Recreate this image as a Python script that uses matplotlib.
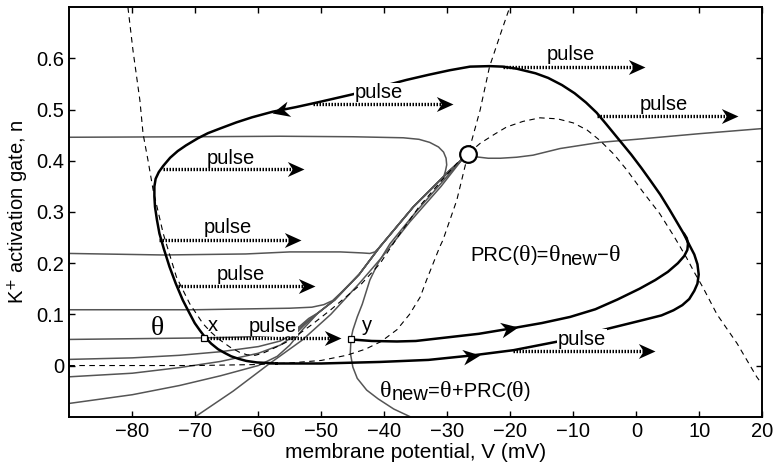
import numpy as np
import matplotlib.pyplot as plt
from matplotlib.path import Path
from matplotlib.markers import MarkerStyle
from matplotlib.transforms import Affine2D, offset_copy

plt.rcParams['font.family'] = ['Liberation Sans', 'DejaVu Sans']

# limit cycle (thick black), in the direction of motion
cycle_v = [-57.1, -50, -40.7, -33, -25.9, -19.5, -12, -4.5, 1.1, 4.0, 5.9, 7.3, 8.4, 9.2, 9.7,
           9.9, 9.7, 9.2, 8.4, 7.5, 6.4, 5.3, 3.8, 2.2, 0.8, -0.8, -3.0, -4.8, -6.3, -8.0,
           -9.8, -11.8, -14, -16, -19.0, -21.2, -23.3, -26.4, -29.6, -33, -36.5, -40.5, -45,
           -50.3, -54, -57.7, -61, -63.5, -66.1, -68, -69.6, -71.5, -72.8, -74.0, -75.1,
           -75.8, -76.3, -76.5, -76.5, -76.4, -76.1, -75.7, -75.0, -74.1, -73.1, -72.0, -71.0,
           -70.1, -69.3, -68.5, -67.5, -66.4, -65.4, -64.3, -63.1, -61.9, -60.2, -58.5, -57.1]
cycle_n = [0.004, 0.004, 0.007, 0.011, 0.020, 0.030, 0.048, 0.072, 0.089, 0.098, 0.108, 0.118,
           0.130, 0.146, 0.160, 0.178, 0.198, 0.217, 0.236, 0.258, 0.281, 0.304, 0.334,
           0.362, 0.386, 0.412, 0.445, 0.472, 0.494, 0.514, 0.532, 0.548, 0.562, 0.571,
           0.580, 0.584, 0.585, 0.584, 0.577, 0.568, 0.558, 0.545, 0.530, 0.515, 0.505,
           0.496, 0.485, 0.475, 0.463, 0.454, 0.444, 0.430, 0.419, 0.406, 0.390, 0.378,
           0.365, 0.350, 0.330, 0.310, 0.285, 0.258, 0.228, 0.193, 0.160, 0.128, 0.104,
           0.083, 0.069, 0.056, 0.043, 0.032, 0.025, 0.018, 0.013, 0.009, 0.006, 0.005, 0.004]

# trajectory after the pulse, starting at y
traj_v = [-45.3, -42, -38, -35, -30, -25, -20.1, -15, -10.5, -6.5, -3.0, 0.5, 3.0, 5.0, 6.6,
          7.6, 8.1, 8.2, 8.0, 7.6]
traj_n = [0.051, 0.048, 0.047, 0.048, 0.055, 0.062, 0.072, 0.083, 0.095, 0.110, 0.129,
          0.150, 0.167, 0.183, 0.200, 0.214, 0.226, 0.238, 0.249, 0.257]

# V-nullcline and n-nullcline (dashed)
vnull_v = [-80.7, -79.9, -78.8, -78.3, -77.5, -76.7, -75.1, -73.0, -70.9, -68.8, -67.5, -66.1,
           -64.5, -63.0, -61.8, -60.5, -59.3, -58.2, -56.5, -55, -51.5, -48.6, -43.6, -40.7,
           -37.5, -34.5, -31, -28.5, -26.7, -24.8, -22.5, -20.6, -18, -15.3, -12.5, -10,
           -7.8, -5.8, -3.5, -1.5, 1, 3.7, 6, 8, 9.3, 10.6, 12.8, 16, 19.1, 20]
vnull_n = [0.70, 0.616, 0.518, 0.453, 0.40, 0.343, 0.258, 0.173, 0.121, 0.082, 0.065, 0.05,
           0.036, 0.026, 0.021, 0.020, 0.024, 0.030, 0.040, 0.049, 0.08, 0.108, 0.16, 0.199,
           0.258, 0.31, 0.36, 0.395, 0.414, 0.434, 0.452, 0.466, 0.477, 0.484, 0.482, 0.474,
           0.46, 0.44, 0.412, 0.382, 0.34, 0.297, 0.252, 0.21, 0.18, 0.152, 0.10, 0.043,
           -0.022, -0.037]
nnull_v = [-90, -70, -60, -55, -50, -46, -43, -40.5, -38, -36, -34.3, -33.3, -31.2, -30.7,
           -28.5, -26.7, -24.8, -23.3, -21.5, -20.1]
nnull_n = [0.0, 0.0, 0.002, 0.005, 0.01, 0.02, 0.032, 0.047, 0.07, 0.1, 0.134, 0.167, 0.232,
           0.245, 0.323, 0.414, 0.499, 0.584, 0.65, 0.70]

# gray curves converging to the saddle
bundle_v = [-53.4, -50.5, -47.9, -44, -40.7, -35.4, -30.1, -27.2]
bundle_n = [0.082, 0.103, 0.128, 0.178, 0.232, 0.310, 0.375, 0.408]
g1_v = [-90, -70, -56.6, -45, -37, -34.5, -32.8, -31.4, -30.6, -30.2, -30.1, -30.3, -30.5,
        -29.5, -28.3, -27.3]
g1_n = [0.446, 0.447, 0.448, 0.447, 0.445, 0.442, 0.436, 0.427, 0.417, 0.405, 0.392, 0.380,
        0.372, 0.383, 0.396, 0.408]
g2_v = [-90, -75, -62, -55, -47, -43.5, -42.3, -41.5, -40.7]
g2_n = [0.219, 0.216, 0.218, 0.222, 0.222, 0.220, 0.219, 0.222, 0.232]
g3_v = [-90, -70, -55, -51.5, -49.6, -48.2, -47]
g3_n = [0.109, 0.109, 0.112, 0.114, 0.119, 0.127, 0.141]
g4_v = [-90, -68.6, -62, -57.5, -55, -53.5, -52]
g4_n = [0.051, 0.054, 0.056, 0.059, 0.065, 0.076, 0.092]
g5_v = [-90, -80, -72.5, -66, -60, -56.5, -54.5, -52.5]
g5_n = [0.012, 0.015, 0.020, 0.027, 0.037, 0.048, 0.062, 0.084]
g6_v = [-90, -80, -72.5, -66, -60, -56.5, -54.5, -52.8]
g6_n = [-0.022, -0.015, -0.004, 0.008, 0.024, 0.040, 0.057, 0.078]
g7_v = [-90, -80, -72.5, -66, -60, -57, -55, -53]
g7_n = [-0.074, -0.057, -0.039, -0.020, 0.0, 0.018, 0.040, 0.070]
g8_v = [-70, -64, -58.2, -53, -48.5, -44, -40.5, -36, -31, -27.5]
g8_n = [-0.1, -0.05, 0.004, 0.05, 0.1, 0.16, 0.21, 0.28, 0.35, 0.405]
gy_v = [-35.9, -38.5, -41, -42.8, -44.3, -45, -45.4, -45.3, -45.0, -44.3, -43.5, -42.3,
        -41, -39.1, -35, -30, -27.5]
gy_n = [-0.1, -0.085, -0.065, -0.048, -0.025, -0.003, 0.025, 0.051, 0.069, 0.095, 0.12,
        0.167, 0.2, 0.238, 0.3, 0.37, 0.405]
gr_v = [-26.7, -25.6, -23.5, -21.6, -19, -16.4, -12.1, -5.8, 0, 10, 20]
gr_n = [0.414, 0.408, 0.405, 0.405, 0.407, 0.411, 0.424, 0.436, 0.442, 0.453, 0.463]

saddle = (-26.7, 0.414)
pt_x = (-68.6, 0.054)
pt_y = (-45.3, 0.051)

# pulses: start V, end V, n, label V, label n
pulse_v0 = [-75.1, -75.7, -72.8, -68.6, -51.3, -21.1, -6.3, -19.5]
pulse_v1 = [-52.8, -53.2, -51.0, -46.8, -29.1, 1.4, 16.2, 3.0]
pulse_n = [0.384, 0.246, 0.156, 0.053, 0.511, 0.584, 0.487, 0.028]
label_v = [-64.3, -64.9, -62.8, -57.7, -40.9, -10.4, 4.4, -8.6]
label_n = [0.405, 0.269, 0.178, 0.077, 0.533, 0.608, 0.510, 0.051]

fig = plt.figure(figsize=(7.73, 4.75), dpi=100)
ax = fig.add_axes([0.0897, 0.1227, 0.8965, 0.862])
ax.set_xlim(-90, 20)
ax.set_ylim(-0.1, 0.7)

gray = '#555555'
for gv, gn in [(g1_v, g1_n), (gy_v, gy_n), (g8_v, g8_n), (gr_v, gr_n)]:
    ax.plot(gv, gn, color=gray, lw=1.1, zorder=1)
for gv, gn in [(g2_v, g2_n), (g3_v, g3_n), (g4_v, g4_n), (g5_v, g5_n), (g6_v, g6_n), (g7_v, g7_n)]:
    i = np.searchsorted(bundle_v, gv[-1] + 0.5)
    ax.plot(list(gv) + bundle_v[i:], list(gn) + bundle_n[i:], color=gray, lw=1.1, zorder=1)

ax.plot(vnull_v, vnull_n, color='k', lw=0.8, dashes=(5, 4), zorder=2)
ax.plot(nnull_v, nnull_n, color='k', lw=0.8, dashes=(5, 4), zorder=2)

ax.plot(cycle_v, cycle_n, color='k', lw=1.8, zorder=3, solid_joinstyle='round')
ax.plot(traj_v, traj_n, color='k', lw=1.8, zorder=3, solid_joinstyle='round')

head = Path([(0, 0), (-1, 0.45), (-0.7, 0), (-1, -0.45), (0, 0)],
            [Path.MOVETO, Path.LINETO, Path.LINETO, Path.LINETO, Path.CLOSEPOLY])


def arrow_head(tip, back, ms=24):
    p0 = ax.transData.transform(back)
    p1 = ax.transData.transform(tip)
    ang = np.degrees(np.arctan2(p1[1] - p0[1], p1[0] - p0[0]))
    m = MarkerStyle(head, transform=Affine2D().rotate_deg(ang))
    ax.plot([tip[0]], [tip[1]], marker=m, ms=ms, color='k', mew=0, ls='none', zorder=6)


for v0, v1, n, lv, ln in zip(pulse_v0, pulse_v1, pulse_n, label_v, label_n):
    ax.plot([v0, v1 - 1.6], [n, n], color='k', lw=2.4, dashes=(0.45, 0.45),
            dash_capstyle='butt', zorder=6)
    arrow_head((v1, n), (v0, n))
    ax.text(lv, ln, 'pulse', fontsize=14.5, ha='center', va='center', zorder=5,
            bbox=dict(facecolor='white', edgecolor='none', pad=0.5))

# direction arrows on the orbits
arrow_head((-57.9, 0.493), (-54.0, 0.505), ms=25)
arrow_head((-24.8, 0.021), (-28.0, 0.016), ms=25)
arrow_head((-18.8, 0.075), (-22.0, 0.068), ms=25)

ax.plot(*saddle, marker='o', ms=12, mfc='white', mec='k', mew=1.6, zorder=7)
ax.plot(*pt_x, marker='s', ms=5, mfc='white', mec='k', mew=0.9, zorder=7)
ax.plot(*pt_y, marker='s', ms=5, mfc='white', mec='k', mew=0.9, zorder=7)

sans = ['Liberation Sans', 'DejaVu Sans']
serif = ['Liberation Serif', 'DejaVu Serif']


def chain_text(x, y, parts, size=14.5):
    r = fig.canvas.get_renderer()
    for s, dy, fam, fs in parts:
        tr = offset_copy(ax.transData, fig=fig, x=0, y=dy, units='points')
        t = ax.text(x, y, s, fontsize=fs, family=fam, ha='left', va='baseline',
                    transform=tr, zorder=5)
        bb = t.get_window_extent(r)
        x = ax.transData.inverted().transform((bb.x1, 0))[0]


th = 17.5
ax.text(-67.2, 0.068, 'x', fontsize=14.5, ha='center', va='baseline', zorder=5)
ax.text(-42.8, 0.068, 'y', fontsize=14.5, ha='center', va='baseline', zorder=5)
ax.text(-76.0, 0.059, '\u03b8', fontsize=20, family=serif, ha='center', va='baseline', zorder=5)
chain_text(-26.4, 0.204, [('PRC(', 0, sans, 14.5), ('\u03b8', 0, serif, th), (')=', 0, sans, 14.5),
                          ('\u03b8', 0, serif, th), ('new', -2.5, sans, 14.5),
                          ('\u2212', 0, sans, 14.5), ('\u03b8', 0, serif, th)])
chain_text(-40.7, -0.061, [('\u03b8', 0, serif, th), ('new', -2.5, sans, 14.5), ('=', 0, sans, 14.5),
                           ('\u03b8', 0, serif, th), ('+PRC(', 0, sans, 14.5),
                           ('\u03b8', 0, serif, th), (')', 0, sans, 14.5)])

ax.set_xticks(np.arange(-80, 21, 10))
ax.set_yticks([0, 0.1, 0.2, 0.3, 0.4, 0.5, 0.6])
ax.set_yticklabels(['0', '0.1', '0.2', '0.3', '0.4', '0.5', '0.6'])
ax.tick_params(direction='in', top=True, right=True, length=4, width=1, labelsize=14.5)
for s in ax.spines.values():
    s.set_linewidth(1.4)
ax.set_xlabel('membrane potential, V (mV)', fontsize=15, labelpad=2)
ax.set_ylabel(r'K$^{+}$ activation gate, n', fontsize=14.5)

fig.savefig('out.png', dpi=100)
